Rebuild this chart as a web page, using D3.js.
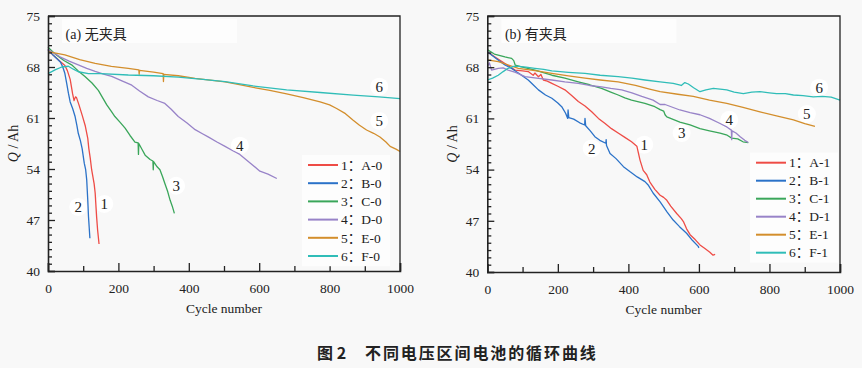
<!DOCTYPE html>
<html><head><meta charset="utf-8">
<script src="https://cdnjs.cloudflare.com/ajax/libs/d3/7.8.5/d3.min.js"></script>
<style>
html,body{margin:0;padding:0;background:#f8f8f8;}
svg{display:block;}
</style></head>
<body>
<svg id="chart" width="862" height="368"></svg>
<script>
// ---------- DATA (cycle number, capacity Ah) ----------
const xTicks = [0, 200, 400, 600, 800, 1000];
const xMinorTicks = [100, 300, 500, 700, 900];
const yTicks = [40, 47, 54, 61, 68, 75];
const seriesNames = ["1", "2", "3", "4", "5", "6"];
const colors = ["#ee4c46", "#2b72c8", "#3aa65a", "#9883c8", "#d38e2c", "#30bdb8"];
const legendA = ["1：A-0", "2：B-0", "3：C-0", "4：D-0", "5：E-0", "6：F-0"];
const legendB = ["1：A-1", "2：B-1", "3：C-1", "4：D-1", "5：E-1", "6：F-1"];
const titleA = "(a) 无夹具";
const titleB = "(b) 有夹具";
const xLabel = "Cycle number";
const caption = ["图 2", "不同电压区间电池的循环曲线"];

// panel (a) without fixture
const a0 = [[0,70.4],[15,69.6],[34,68.8],[48,68.2],[55,67.5],[63,66.3],[70,64.3],[74,63.4],[78,63.9],[81,63.8],[88,62.8],[97,61.4],[106,59.9],[113,58.2],[116,56.8],[120,55.5],[124,53.9],[131,52.0],[134,50.7],[138,47.5],[141,45.6],[145,43.7]];
const b0 = [[0,70.4],[15,69.6],[35,68.7],[42,68.0],[48,67.1],[53,65.8],[58,64.4],[63,63.2],[70,62.3],[77,61.2],[82,60.0],[86,58.9],[92,57.9],[97,56.8],[103,54.8],[107,53.9],[110,52.5],[113,49.7],[115,47.5],[117,46.0],[119,44.5]];
const c0 = [[0,70.7],[20,69.8],[45,68.9],[67,68.3],[85,67.5],[105,66.7],[125,65.8],[143,64.8],[155,63.8],[167,62.8],[180,61.9],[190,61.2],[205,60.4],[219,59.6],[233,58.6],[247,57.7],[256,57.6],[257,56.0],[258,57.5],[268,56.6],[276,55.9],[290,55.3],[298,55.1],[299,53.9],[300,55.0],[310,54.3],[318,53.9],[325,53.0],[332,52.0],[340,50.9],[347,49.7],[353,48.9],[359,47.9]];
const d0 = [[0,70.4],[34,69.4],[60,68.8],[86,68.3],[110,67.8],[134,67.4],[160,67.0],[181,66.7],[210,66.1],[238,65.5],[260,64.7],[285,63.9],[310,63.4],[332,63.0],[350,62.2],[370,61.2],[395,60.3],[418,59.4],[440,58.8],[455,58.4],[480,57.7],[503,57.1],[525,56.5],[545,56.0],[575,54.8],[602,53.7],[625,53.3],[650,52.7]];
const e0 = [[0,70.1],[48,69.65],[90,69.0],[134,68.5],[180,68.1],[228,67.8],[258,67.6],[259,67.0],[260,67.55],[300,67.3],[327,67.1],[328,66.0],[329,67.0],[370,66.8],[418,66.45],[460,66.2],[503,65.95],[540,65.6],[583,65.2],[630,64.8],[678,64.3],[725,63.8],[773,63.2],[800,62.8],[820,62.3],[845,61.6],[867,60.7],[885,60.0],[905,59.35],[925,58.9],[943,58.4],[960,57.7],[972,57.1],[990,56.7],[1000,56.4]];
const f0 = [[0,67.1],[20,67.6],[39,68.0],[58,68.1],[72,67.7],[86,67.35],[115,67.1],[150,67.1],[228,66.9],[300,66.8],[370,66.6],[440,66.3],[503,66.0],[583,65.4],[678,64.85],[773,64.5],[867,64.15],[940,63.9],[1000,63.65]];

// panel (b) with fixture
const a1 = [[0,70.1],[25,69.3],[50,68.5],[79,67.6],[100,67.5],[116,67.4],[130,66.9],[135,67.2],[145,66.7],[152,67.0],[159,66.25],[170,66.1],[183,65.8],[200,65.4],[220,64.9],[240,64.1],[258,63.3],[277,62.7],[296,61.9],[315,61.0],[334,60.3],[352,59.6],[371,59.0],[390,58.4],[409,57.8],[424,57.2],[433,55.3],[442,53.9],[452,53.3],[461,52.3],[475,51.3],[490,50.5],[500,50.2],[509,49.8],[520,49.0],[537,48.0],[550,47.3],[556,46.9],[565,45.9],[575,45.1],[590,44.4],[603,43.7],[617,43.2],[631,42.7],[640,42.3],[646,42.4]];
const b1 = [[0,70.1],[25,69.2],[50,68.3],[70,67.8],[88,67.2],[100,66.8],[116,66.25],[130,65.6],[145,64.9],[165,64.2],[183,63.75],[200,63.1],[211,62.6],[222,61.7],[228,61.0],[229,62.15],[231,61.1],[245,60.9],[262,60.4],[276,60.1],[277,61.0],[279,60.0],[292,59.3],[305,58.5],[319,58.0],[336,57.6],[337,58.1],[338,57.3],[348,56.2],[365,55.5],[386,54.4],[405,53.7],[425,53.0],[447,52.35],[456,51.9],[470,50.8],[490,49.6],[510,48.2],[527,47.1],[545,46.2],[565,45.3],[582,44.3],[598,43.5],[600,43.3]];
const c1 = [[0,70.4],[20,69.8],[50,69.4],[69,69.2],[75,68.9],[79,68.3],[100,68.0],[135,67.6],[183,66.9],[220,66.5],[258,66.0],[290,65.6],[324,65.1],[350,64.6],[371,64.2],[390,63.8],[409,63.5],[447,63.05],[475,62.6],[490,62.2],[500,62.0],[504,61.5],[509,61.2],[546,60.5],[575,60.1],[603,59.6],[630,59.3],[660,59.0],[680,58.7],[693,58.3],[710,58.2],[725,57.8],[740,57.7]];
const d1 = [[0,68.1],[6,68.6],[12,67.6],[20,67.7],[31,67.85],[45,67.9],[59,67.6],[80,67.3],[107,66.7],[140,66.5],[183,66.25],[220,66.0],[258,65.8],[290,65.5],[324,65.3],[350,65.1],[381,64.9],[410,64.5],[438,64.0],[470,63.5],[490,62.9],[504,62.9],[546,62.15],[575,61.8],[603,61.5],[630,61.0],[660,60.3],[680,59.8],[692,59.4],[693,58.1],[694,59.3],[705,59.0],[717,58.5],[730,58.0],[740,57.7]];
const e1 = [[0,69.0],[31,68.75],[60,68.3],[88,67.85],[140,67.5],[183,67.15],[230,66.8],[277,66.5],[320,66.25],[371,66.0],[420,65.5],[460,65.0],[490,64.65],[540,64.3],[584,64.0],[630,63.5],[679,63.05],[725,62.5],[773,61.9],[820,61.35],[868,60.8],[900,60.3],[929,59.9]];
const f1 = [[0,66.25],[15,66.5],[31,66.9],[45,67.4],[59,67.85],[75,68.1],[88,68.1],[110,68.0],[135,67.85],[160,67.7],[183,67.5],[230,67.3],[277,67.15],[320,66.9],[371,66.7],[410,66.5],[447,66.25],[490,66.0],[527,65.8],[550,65.5],[560,65.9],[570,65.7],[585,65.2],[603,64.65],[620,64.9],[641,65.1],[660,65.0],[679,64.9],[700,64.6],[726,64.4],[750,64.6],[773,64.65],[800,64.5],[820,64.4],[845,64.4],[868,64.2],[895,64.1],[924,63.95],[950,64.0],[975,63.9],[1000,63.5]];

// curve number labels (data coordinates)
const numLabelsA = [[160,49.2],[86,48.8],[364,51.7],[545,57.2],[941,60.6],[941,65.3]];
const numLabelsB = [[445,57.4],[296,56.9],[551,59.0],[686,60.8],[906,61.6],[941,65.2]];

// ---------- DRAW ----------
const svg = d3.select("#chart");
const serif = "'Liberation Serif','Times New Roman','Noto Sans CJK SC',serif";
const cjk = "'Noto Sans CJK SC','Noto Sans',sans-serif";

function panel(cfg) {
  const x = d3.scaleLinear().domain([0, 1000]).range([cfg.left, cfg.right]);
  const y = d3.scaleLinear().domain([40, 75]).range([cfg.bottom, cfg.top]);
  const g = svg.append("g");

  // title box
  g.append("rect").attr("x", x(40)).attr("y", y(74.6)).attr("width", 175).attr("height", 24).attr("fill", "#fdfdfd");

  // white blobs behind curve labels (under the lines)
  cfg.numLabels.forEach(p => {
    g.append("circle").attr("cx", x(p[0])).attr("cy", y(p[1])).attr("r", 9).attr("fill", "#fff");
  });

  // lines
  const line = d3.line().x(d => x(d[0])).y(d => y(d[1]));
  cfg.series.forEach((s, i) => {
    g.append("path").datum(s).attr("d", line).attr("fill", "none")
      .attr("stroke", colors[i]).attr("stroke-width", 1.3).attr("stroke-linejoin", "round");
  });

  // curve labels
  cfg.numLabels.forEach((p, i) => {
    g.append("text").attr("x", x(p[0])).attr("y", y(p[1])).attr("dy", "0.35em")
      .attr("text-anchor", "middle").attr("font-family", serif).attr("font-size", 15)
      .attr("fill", "#222").text(seriesNames[i]);
  });

  // frame
  g.append("path").attr("d", `M${cfg.left},${cfg.top}H${cfg.right}V${cfg.bottom}`)
    .attr("fill", "none").attr("stroke", "#222").attr("stroke-width", 1.3);

  // axes
  const yAx = g.append("g").attr("transform", `translate(${cfg.left},0)`)
    .call(d3.axisLeft(y).tickValues(yTicks).tickSize(-7).tickPadding(8).tickFormat(d3.format("d")));
  const yMinor = g.append("g").attr("transform", `translate(${cfg.left},0)`)
    .call(d3.axisLeft(y).tickValues(d3.range(41, 75).filter(v => !yTicks.includes(v))).tickSize(-4).tickFormat(""));
  const xAx = g.append("g").attr("transform", `translate(0,${cfg.bottom})`)
    .call(d3.axisBottom(x).tickValues(xTicks).tickSize(-8).tickPadding(12).tickFormat(d3.format("d")));
  const xMinor = g.append("g").attr("transform", `translate(0,${cfg.bottom})`)
    .call(d3.axisBottom(x).tickValues(xMinorTicks).tickSize(-5).tickFormat(""));
  [yAx, yMinor, xAx, xMinor].forEach(a => {
    a.selectAll("path.domain").attr("stroke", "#222").attr("stroke-width", 1.6);
    a.selectAll(".tick line").attr("stroke", "#222").attr("stroke-width", 1.3);
    a.selectAll("text").attr("font-family", serif).attr("font-size", 13.5).attr("fill", "#222");
  });
  yMinor.select("path.domain").remove();
  xMinor.select("path.domain").remove();

  // title
  g.append("text").attr("x", x(50)).attr("y", y(71.9)).attr("font-size", 14).attr("fill", "#222")
    .attr("font-family", serif).text(cfg.title);

  // x label
  g.append("text").attr("x", (cfg.left + cfg.right) / 2).attr("y", cfg.bottom + 42)
    .attr("text-anchor", "middle").attr("font-family", serif).attr("font-size", 13.5)
    .attr("fill", "#222").text(xLabel);

  // y label
  const yl = g.append("text").attr("transform", `translate(${cfg.left - 30},${(cfg.top + cfg.bottom) / 2}) rotate(-90)`)
    .attr("text-anchor", "middle").attr("font-family", serif).attr("font-size", 14).attr("fill", "#222");
  yl.append("tspan").attr("font-style", "italic").text("Q");
  yl.append("tspan").text(" / Ah");

  // legend
  const lg = g.append("g");
  lg.append("rect").attr("x", cfg.legX - 6).attr("y", cfg.legY - 10).attr("width", 88).attr("height", 6 * cfg.legStep + 2).attr("fill", "#fdfdfd");
  cfg.legend.forEach((name, i) => {
    const yy = cfg.legY + i * cfg.legStep;
    lg.append("line").attr("x1", cfg.legX).attr("x2", cfg.legX + 30).attr("y1", yy).attr("y2", yy)
      .attr("stroke", colors[i]).attr("stroke-width", 2);
    lg.append("text").attr("x", cfg.legX + 33).attr("y", yy).attr("dy", "0.35em")
      .attr("font-size", 13.5).attr("fill", "#222").attr("font-family", serif).text(name);
  });
}

panel({left: 48, right: 400, top: 16, bottom: 271, series: [a0, b0, c0, d0, e0, f0],
  numLabels: numLabelsA, title: titleA, legend: legendA, legX: 308, legY: 165, legStep: 18.2});
panel({left: 487.3, right: 840, top: 16, bottom: 272, series: [a1, b1, c1, d1, e1, f1],
  numLabels: numLabelsB, title: titleB, legend: legendB, legX: 756, legY: 162.7, legStep: 18});

// caption
svg.append("text").attr("x", 317).attr("y", 359).attr("font-family", cjk).attr("font-weight", 700)
  .attr("font-size", 16).attr("fill", "#222").text(caption[0]);
svg.append("text").attr("x", 365).attr("y", 359).attr("font-family", cjk).attr("font-weight", 700)
  .attr("font-size", 16).attr("letter-spacing", 1.9).attr("fill", "#222").text(caption[1]);
</script>
</body></html>
